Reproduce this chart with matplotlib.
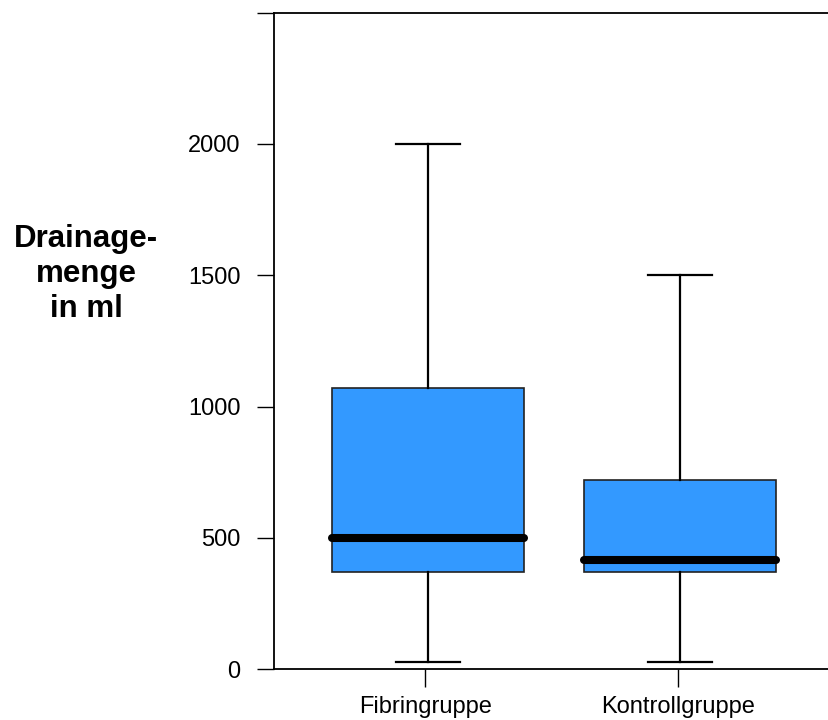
import matplotlib
matplotlib.use("Agg")
import matplotlib.pyplot as plt

plt.rcParams['font.family'] = ['Liberation Sans', 'DejaVu Sans']

# Data
groups = ['Fibringruppe', 'Kontrollgruppe']
q1 = [372, 370]
median = [500, 417]
q3 = [1072, 722]
whisker_low = [28, 28]
whisker_high = [2000, 1500]

y_ticks = [0, 500, 1000, 1500, 2000, 2500]
y_tick_labels = ['0', '500', '1000', '1500', '2000', '']

stats = []
for i, g in enumerate(groups):
    stats.append(dict(label=g, q1=q1[i], med=median[i], q3=q3[i],
                      whislo=whisker_low[i], whishi=whisker_high[i], fliers=[]))

fig = plt.figure(figsize=(8.29, 7.2), dpi=100)
ax = fig.add_axes([0.3305, 0.0704, 0.6695, 0.9122])

ax.bxp(stats, positions=[1.01, 2.01], widths=0.76, patch_artist=True, showfliers=False,
       boxprops=dict(facecolor='#3399ff', edgecolor='#222222', linewidth=1.2),
       medianprops=dict(color='black', linewidth=5.8, solid_capstyle='round'),
       whiskerprops=dict(color='black', linewidth=1.6),
       capprops=dict(color='black', linewidth=1.6),
       capwidths=0.254)

ax.set_xlim(0.4, 2.6)
ax.set_ylim(0, 2500)
ax.set_yticks(y_ticks)
ax.set_yticklabels(y_tick_labels)
ax.set_xticks([1, 2])
ax.set_xticklabels(groups)

ax.tick_params(axis='y', length=12, width=1.0, labelsize=17, pad=12)
ax.tick_params(axis='x', length=13, width=1.0, labelsize=17, pad=6)
for s in ['left', 'bottom', 'top']:
    ax.spines[s].set_linewidth(1.3)
ax.spines['right'].set_visible(False)

fig.text(86 / 829, 1 - 274 / 720, 'Drainage-\nmenge\nin ml', ha='center', va='center',
         fontsize=22.5, fontweight='bold', linespacing=1.2)

fig.savefig('out.png', dpi=100)
